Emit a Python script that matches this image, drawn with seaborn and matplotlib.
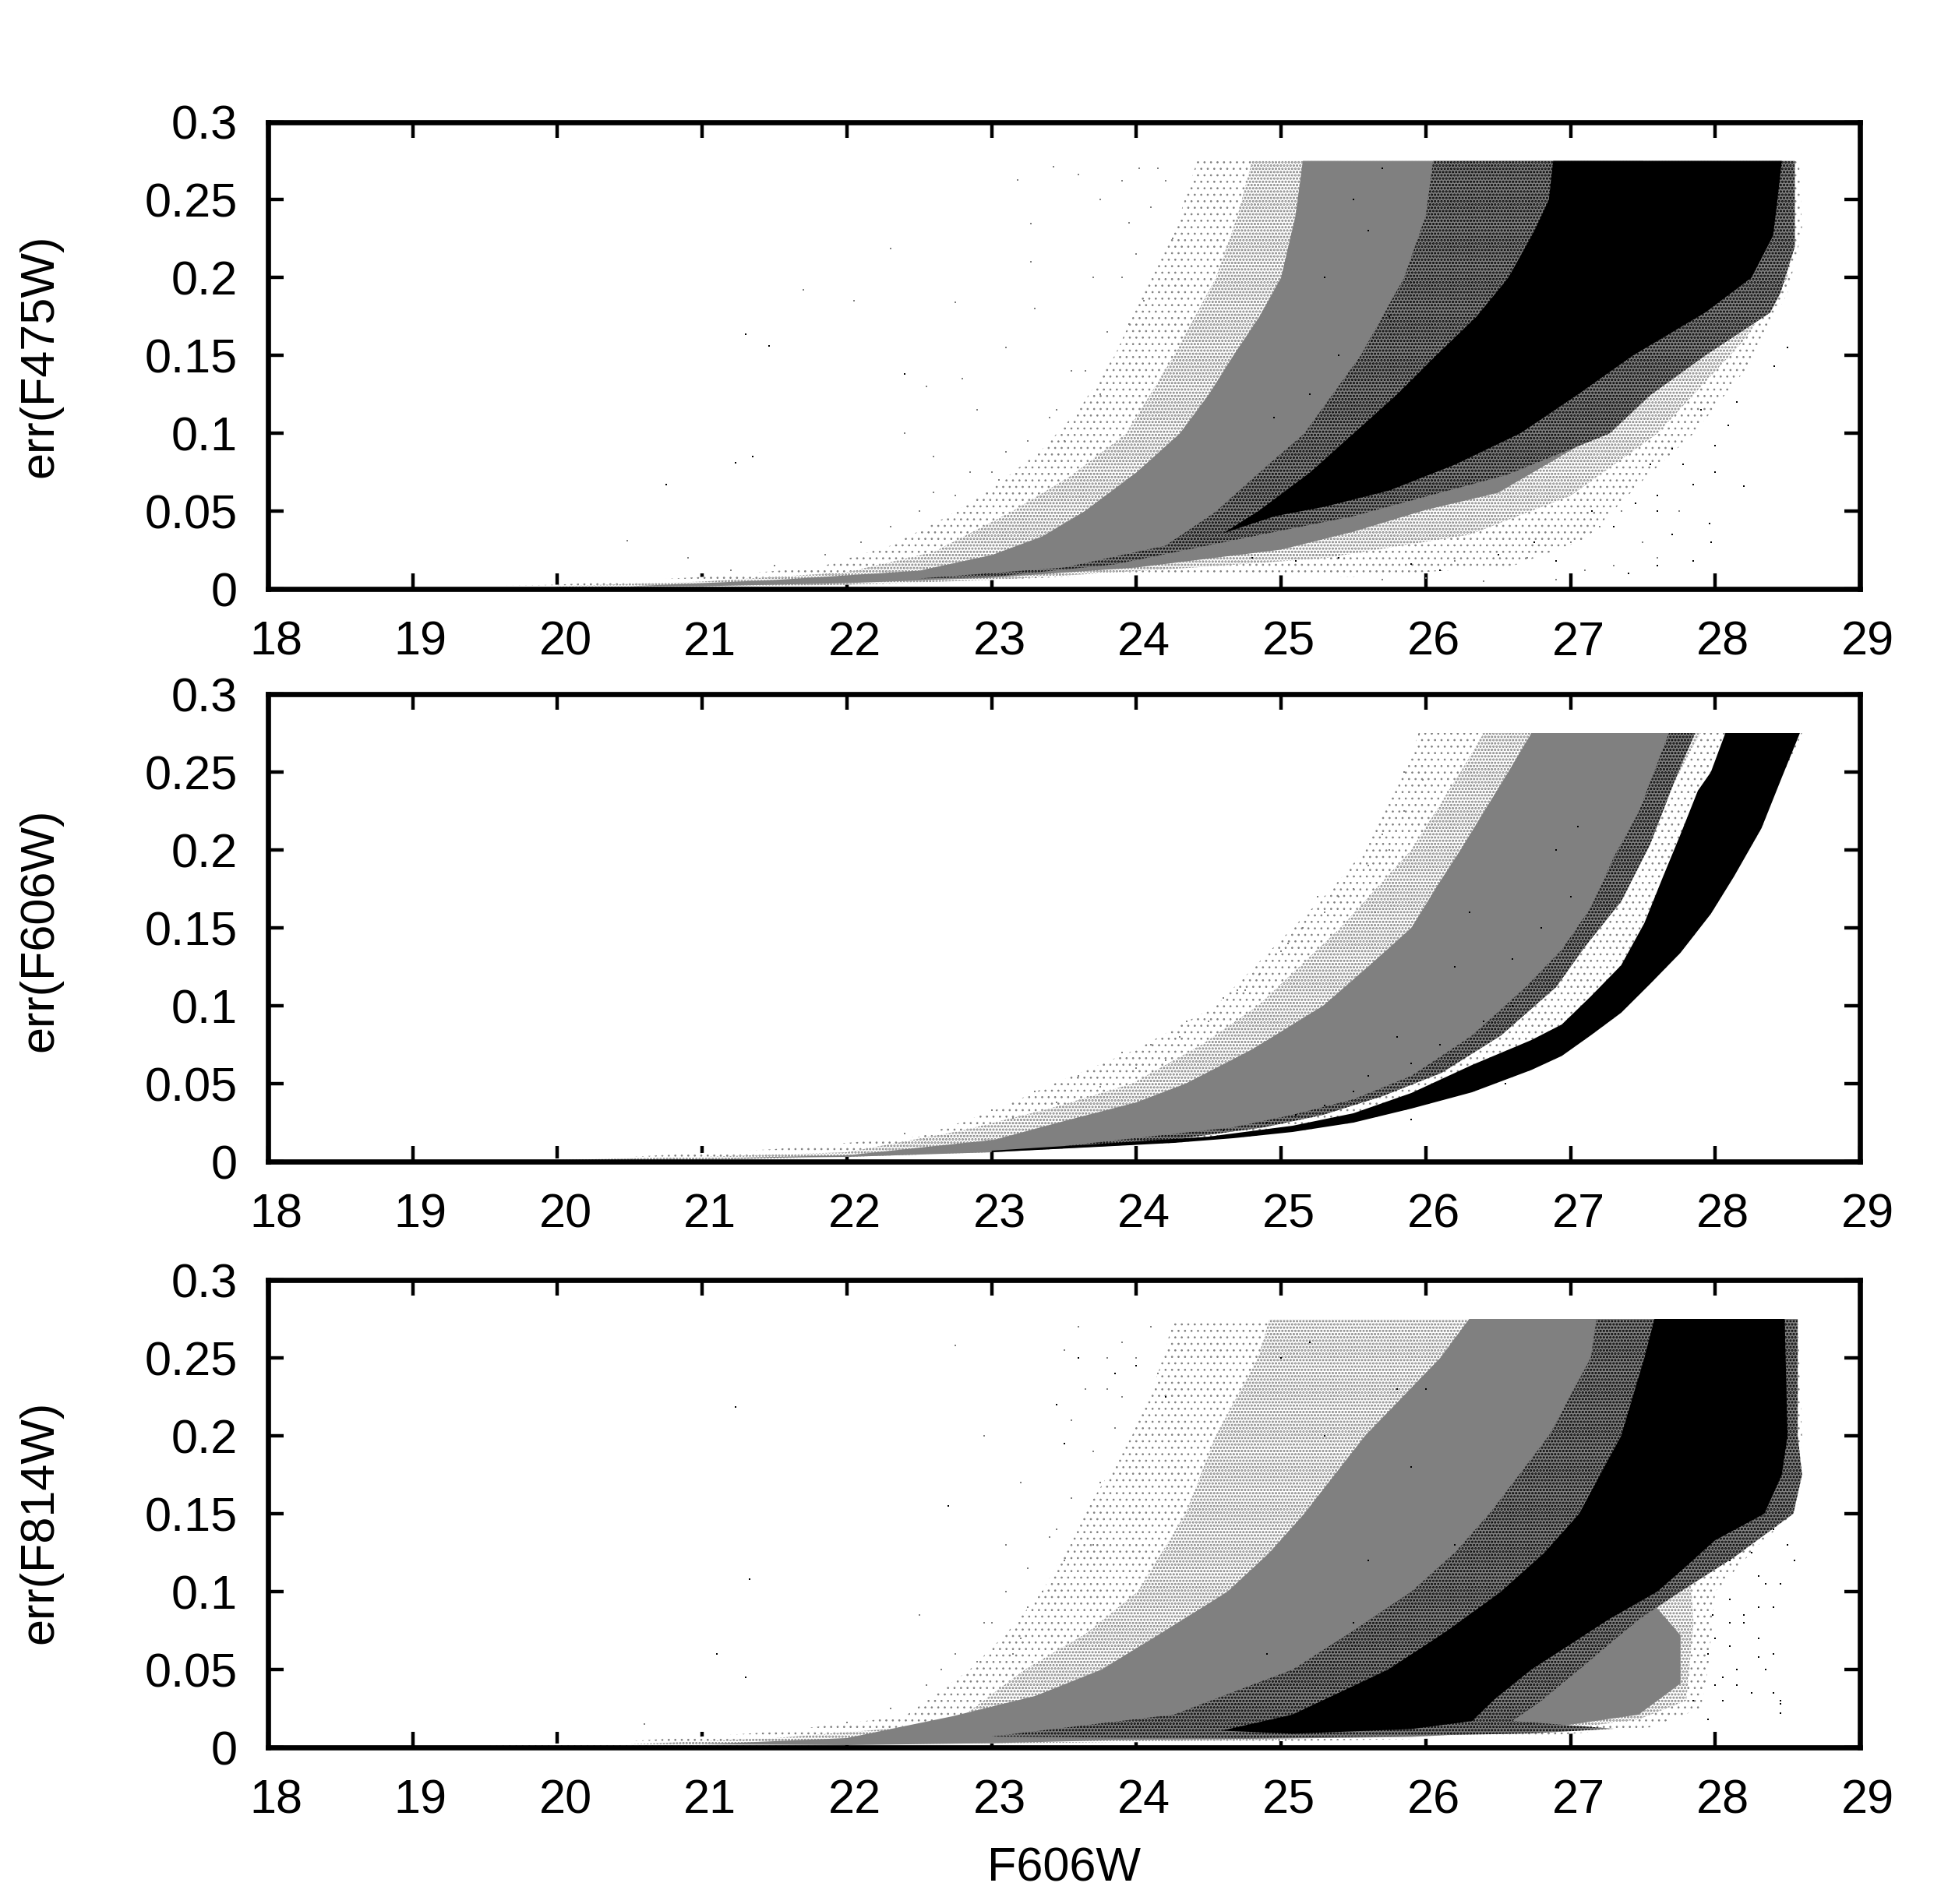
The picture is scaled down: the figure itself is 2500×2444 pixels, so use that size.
import matplotlib
matplotlib.use("Agg")
import matplotlib.pyplot as plt
import matplotlib.transforms as mtrans
import pandas as pd
import seaborn as sns

# =====================================
# Shared axis values
# =====================================

x_ticks = [18, 19, 20, 21, 22, 23, 24, 25, 26, 27, 28, 29]
y_ticks = [0, 0.05, 0.1, 0.15, 0.2, 0.25, 0.3]
y_tick_labels = ["0", "0.05", "0.1", "0.15", "0.2", "0.25", "0.3"]
y_titles = ["err(F475W)", "err(F606W)", "err(F814W)"]

# =====================================
# Envelopes (mag, err)
# sparse = thin dots, speckle = half covered, gray / dark / black = covered
# =====================================

# F475W
p1_sparse_x = [19.0, 20.0, 21.0, 21.8, 22.3, 22.7, 23.05, 23.35, 23.6, 23.85, 24.1, 24.3, 24.42, 28.58, 28.6, 28.5, 28.2, 27.85, 27.5, 27.1, 26.6, 25.5, 24.5, 23.5, 22.5, 21.0, 20.0]
p1_sparse_y = [0.001, 0.003, 0.008, 0.014, 0.028, 0.047, 0.068, 0.09, 0.115, 0.15, 0.2, 0.24, 0.275, 0.275, 0.23, 0.19, 0.14, 0.1, 0.07, 0.032, 0.015, 0.008, 0.01, 0.008, 0.004, 0.0015, 0.0007]
p1_speckle_x = [20.0, 21.0, 22.0, 22.6, 23.14, 23.55, 23.93, 24.26, 24.55, 24.7, 24.8, 28.5, 28.5, 28.2, 27.6, 27.0, 26.3, 25.3, 24.4, 23.0, 22.0, 21.0, 20.0]
p1_speckle_y = [0.002, 0.005, 0.011, 0.024, 0.05, 0.073, 0.1, 0.15, 0.2, 0.24, 0.275, 0.275, 0.2, 0.16, 0.1, 0.06, 0.035, 0.02, 0.014, 0.006, 0.003, 0.0015, 0.0008]
p1_gray_x = [20.5, 21.5, 22.5, 23.0, 23.35, 23.64, 24.0, 24.3, 24.5, 24.67, 24.85, 25.0, 25.1, 25.15, 27.5, 28.0, 27.2, 26.5, 26.0, 25.5, 25.0, 24.0, 23.0, 22.0, 21.0]
p1_gray_y = [0.002, 0.006, 0.012, 0.022, 0.034, 0.05, 0.075, 0.1, 0.125, 0.15, 0.175, 0.2, 0.24, 0.275, 0.275, 0.2, 0.1, 0.062, 0.051, 0.037, 0.0255, 0.014, 0.0075, 0.004, 0.002]
p1_dark_x = [22.5, 23.5, 24.2, 24.55, 24.85, 25.16, 25.55, 25.85, 26.0, 26.05, 28.55, 28.55, 28.45, 28.38, 27.93, 27.55, 27.27, 26.56, 25.5, 24.75, 23.85, 23.0]
p1_dark_y = [0.007, 0.014, 0.028, 0.05, 0.075, 0.1, 0.15, 0.2, 0.24, 0.275, 0.275, 0.22, 0.19, 0.1776, 0.15, 0.1245, 0.1, 0.0735, 0.047, 0.033, 0.016, 0.008]
p1_black_x = [24.6, 24.84, 25.2, 25.5, 25.8, 26.07, 26.35, 26.57, 26.75, 26.85, 26.88, 28.46, 28.43, 28.4, 28.25, 27.93, 27.43, 27.05, 26.65, 26.2, 25.75, 25.3, 24.96]
p1_black_y = [0.036, 0.05, 0.075, 0.1, 0.125, 0.15, 0.175, 0.2, 0.23, 0.25, 0.275, 0.275, 0.25, 0.227, 0.2, 0.1776, 0.15, 0.125, 0.1, 0.08, 0.0635, 0.053, 0.047]

# F606W
p2_sparse_x = [19.5, 20.5, 21.5, 22.5, 23.0, 23.43, 24.0, 24.55, 25.08, 25.35, 25.58, 25.8, 25.9, 25.95, 28.6, 28.46, 28.32, 28.13, 27.97, 27.76, 27.55, 27.35, 27.14, 26.94, 26.73, 26.32, 25.9, 25.5, 25.08, 24.67, 24.26, 23.85, 23.0, 22.0, 21.0, 20.0]
p2_sparse_y = [0.001, 0.003, 0.008, 0.016, 0.032, 0.05, 0.072, 0.1, 0.15, 0.175, 0.2, 0.24, 0.26, 0.275, 0.275, 0.2465, 0.214, 0.183, 0.159, 0.134, 0.114, 0.0955, 0.081, 0.0678, 0.0588, 0.0445, 0.034, 0.025, 0.019, 0.015, 0.012, 0.01, 0.006, 0.003, 0.001, 0.0005]
p2_speckle_x = [20.0, 21.0, 22.0, 22.8, 23.4, 23.97, 24.45, 24.84, 25.41, 25.9, 26.24, 26.4, 27.9, 27.72, 27.55, 27.35, 27.1, 26.9, 26.52, 26.11, 25.7, 25.29, 24.88, 24.0, 23.0, 22.0, 21.0]
p2_speckle_y = [0.001, 0.003, 0.006, 0.02, 0.034, 0.05, 0.075, 0.1, 0.15, 0.2, 0.25, 0.275, 0.275, 0.2445, 0.2037, 0.167, 0.138, 0.112, 0.081, 0.057, 0.042, 0.03, 0.022, 0.011, 0.006, 0.003, 0.001]
p2_gray_x = [21.0, 22.0, 23.02, 23.5, 24.0, 24.34, 24.8, 25.29, 25.6, 25.9, 26.1, 26.24, 26.57, 26.73, 27.86, 27.72, 27.55, 27.35, 27.1, 26.9, 26.52, 26.11, 25.7, 25.29, 24.88, 24.0, 23.0, 22.0]
p2_gray_y = [0.002, 0.004, 0.014, 0.026, 0.038, 0.05, 0.072, 0.1, 0.125, 0.15, 0.18, 0.2, 0.25, 0.275, 0.275, 0.2445, 0.2037, 0.167, 0.138, 0.112, 0.081, 0.057, 0.042, 0.03, 0.022, 0.011, 0.006, 0.003]
p2_dark_x = [23.5, 24.67, 25.08, 25.5, 25.9, 26.32, 26.69, 26.94, 27.14, 27.31, 27.47, 27.68, 27.86, 27.72, 27.55, 27.35, 27.1, 26.9, 26.52, 26.11, 25.7, 25.29, 24.88, 24.0]
p2_dark_y = [0.01, 0.022, 0.03, 0.04, 0.055, 0.081, 0.112, 0.136, 0.163, 0.1975, 0.224, 0.275, 0.275, 0.2445, 0.2037, 0.167, 0.138, 0.112, 0.081, 0.057, 0.042, 0.03, 0.022, 0.011]
p2_black_x = [23.0, 23.85, 24.5, 25.08, 25.5, 25.9, 26.32, 26.73, 26.94, 27.14, 27.35, 27.51, 27.64, 27.76, 27.88, 27.97, 28.07, 28.585, 28.46, 28.32, 28.13, 27.97, 27.76, 27.55, 27.35, 27.14, 26.94, 26.73, 26.32, 25.9, 25.5, 25.08, 24.67, 24.26, 23.85, 23.0]
p2_black_y = [0.007, 0.012, 0.016, 0.023, 0.031, 0.044, 0.062, 0.078, 0.088, 0.106, 0.126, 0.153, 0.183, 0.21, 0.238, 0.25, 0.275, 0.275, 0.2465, 0.214, 0.183, 0.159, 0.134, 0.114, 0.0955, 0.081, 0.0678, 0.0588, 0.0445, 0.034, 0.025, 0.019, 0.015, 0.012, 0.01, 0.006]

# F814W
p3_sparse_x = [19.5, 20.5, 21.5, 22.4, 22.85, 23.1, 23.35, 23.64, 23.97, 24.15, 24.26, 28.57, 28.6, 28.54, 28.3, 28.0, 27.95, 27.9, 27.55, 26.73, 25.0, 23.5, 22.0, 20.5]
p3_sparse_y = [0.001, 0.004, 0.01, 0.02, 0.05, 0.073, 0.1, 0.15, 0.2, 0.24, 0.275, 0.275, 0.2, 0.15, 0.13, 0.1, 0.05, 0.025, 0.0129, 0.0067, 0.004, 0.003, 0.0015, 0.0005]
p3_speckle_x = [20.5, 21.5, 22.3, 22.8, 23.23, 23.65, 24.01, 24.34, 24.55, 24.84, 24.92, 27.6, 27.8, 27.85, 27.8, 27.47, 26.73, 25.0, 23.5, 22.0]
p3_speckle_y = [0.002, 0.006, 0.012, 0.02, 0.05, 0.073, 0.1, 0.15, 0.2, 0.25, 0.275, 0.275, 0.15, 0.08, 0.03, 0.018, 0.009, 0.005, 0.003, 0.002]
p3_gray_x = [21.0, 22.0, 22.73, 23.3, 23.76, 24.2, 24.63, 24.92, 25.16, 25.58, 26.1, 26.3, 27.3, 27.55, 27.76, 27.76, 27.47, 26.73, 25.9, 25.0, 23.85, 23.0, 22.0]
p3_gray_y = [0.002, 0.006, 0.02, 0.033, 0.05, 0.075, 0.1, 0.125, 0.15, 0.2, 0.25, 0.275, 0.275, 0.0945, 0.072, 0.041, 0.021, 0.011, 0.0067, 0.0057, 0.0047, 0.0027, 0.0015]
p3_dark_x = [23.0, 24.26, 25.08, 25.5, 25.9, 26.2, 26.44, 26.85, 27.14, 27.18, 28.57, 28.57, 28.6, 28.54, 28.13, 27.76, 27.47, 27.06, 26.8, 26.6, 27.3, 26.73, 25.9, 24.66]
p3_dark_y = [0.007, 0.0211, 0.05, 0.075, 0.1, 0.125, 0.15, 0.2, 0.25, 0.275, 0.275, 0.2, 0.175, 0.15, 0.122, 0.1, 0.082, 0.05, 0.03, 0.017, 0.012, 0.009, 0.0075, 0.0057]
p3_black_x = [24.59, 25.08, 25.74, 26.15, 26.52, 26.82, 27.06, 27.35, 27.51, 27.58, 28.48, 28.5, 28.46, 28.34, 28.0, 27.76, 27.6, 27.27, 26.73, 26.48, 26.32, 25.9, 25.08]
p3_black_y = [0.0108, 0.0211, 0.05, 0.075, 0.1, 0.125, 0.15, 0.2, 0.25, 0.275, 0.275, 0.2, 0.175, 0.15, 0.133, 0.113, 0.1, 0.0825, 0.05, 0.0313, 0.0169, 0.0118, 0.0088]

# =====================================
# Single dots
# =====================================

p1_gray_dots_x = [20.48, 20.9, 21.7, 22.05, 22.3, 22.55, 22.75, 22.8, 23.1, 23.18, 23.27, 23.27, 23.43, 23.6, 23.75, 23.9, 23.95, 24.02, 23.3, 23.55, 23.7, 22.4, 22.6, 22.9, 23.05, 23.4, 26.2, 26.7, 27.0, 27.2, 27.35, 27.1, 26.9, 26.4, 23.9, 24.0, 24.1, 24.2, 24.25, 23.95, 23.8, 23.65, 23.45, 23.25, 23.0, 22.75, 22.5, 22.3, 22.1, 21.85, 21.5, 21.2, 24.05, 23.75, 23.5, 23.1, 22.85, 22.6, 24.15, 27.6, 27.3, 27.75, 27.5, 26.0, 25.7]
p1_gray_dots_y = [0.031, 0.02, 0.192, 0.185, 0.2186, 0.13, 0.184, 0.135, 0.155, 0.2625, 0.2346, 0.21, 0.271, 0.266, 0.25, 0.262, 0.235, 0.27, 0.18, 0.14, 0.2, 0.1, 0.085, 0.115, 0.07, 0.11, 0.018, 0.02, 0.03, 0.04, 0.05, 0.012, 0.006, 0.005, 0.2, 0.215, 0.245, 0.262, 0.225, 0.17, 0.165, 0.14, 0.115, 0.095, 0.075, 0.06, 0.05, 0.04, 0.03, 0.022, 0.015, 0.012, 0.185, 0.125, 0.095, 0.088, 0.075, 0.062, 0.27, 0.02, 0.015, 0.05, 0.03, 0.007, 0.006]
p1_black_dots_x = [21.3, 21.46, 22.4, 21.23, 21.35, 20.75, 28.5, 28.41, 28.15, 28.09, 28.0, 27.9, 27.78, 27.85, 27.97, 27.96, 27.7, 27.6, 27.4, 27.85, 28.2, 28.0, 27.6, 25.3, 25.5, 25.6, 25.4, 25.75, 25.2, 24.95, 25.7, 27.3, 27.6, 26.9, 26.5, 25.9, 25.4, 26.1, 25.1, 24.8, 27.15, 27.45, 26.75, 27.7, 27.55]
p1_black_dots_y = [0.1636, 0.156, 0.138, 0.081, 0.085, 0.067, 0.155, 0.143, 0.12, 0.105, 0.092, 0.115, 0.08, 0.067, 0.03, 0.042, 0.035, 0.015, 0.01, 0.018, 0.066, 0.075, 0.05, 0.2, 0.25, 0.23, 0.15, 0.175, 0.125, 0.11, 0.27, 0.04, 0.06, 0.018, 0.022, 0.016, 0.02, 0.012, 0.018, 0.02, 0.05, 0.055, 0.03, 0.09, 0.08]

p2_gray_dots_x = [22.4, 23.0, 23.3, 23.6, 23.9, 24.1, 24.35, 24.6, 24.85, 25.0, 25.15, 25.4, 25.6, 25.7, 25.95, 25.85, 25.3, 25.05, 24.7, 24.3, 24.0, 25.25, 24.75, 24.5, 24.2, 23.75, 23.45, 23.15, 22.7, 25.75, 25.65, 25.85, 25.98, 25.5]
p2_gray_dots_y = [0.018, 0.033, 0.045, 0.055, 0.07, 0.075, 0.09, 0.105, 0.12, 0.135, 0.15, 0.17, 0.19, 0.21, 0.274, 0.25, 0.16, 0.14, 0.11, 0.08, 0.06, 0.17, 0.11, 0.09, 0.065, 0.048, 0.038, 0.028, 0.016, 0.2, 0.16, 0.225, 0.245, 0.175]
p2_black_dots_x = [24.6, 24.9, 25.3, 25.6, 25.9, 26.1, 26.4, 26.6, 26.8, 27.0, 27.05, 26.2, 25.8, 25.5, 26.6, 26.9, 26.3, 25.1, 25.9, 26.55, 26.95, 27.3, 27.6, 27.8]
p2_black_dots_y = [0.02, 0.025, 0.036, 0.055, 0.063, 0.075, 0.09, 0.1, 0.15, 0.17, 0.215, 0.125, 0.08, 0.045, 0.13, 0.2, 0.16, 0.03, 0.027, 0.05, 0.072, 0.105, 0.14, 0.18]

p3_gray_dots_x = [20.6, 22.75, 22.95, 23.2, 23.35, 23.5, 23.6, 23.1, 23.25, 23.75, 23.8, 23.9, 23.45, 23.0, 23.15, 22.65, 22.5, 23.55, 24.1, 24.0, 23.9, 23.85, 23.7, 23.55, 23.4, 23.25, 23.1, 22.95, 22.75, 22.55, 22.3, 22.0, 24.15, 23.8, 23.65, 23.7, 23.5, 23.2, 22.9]
p3_gray_dots_y = [0.015, 0.258, 0.2, 0.17, 0.1, 0.255, 0.27, 0.13, 0.09, 0.17, 0.23, 0.26, 0.14, 0.08, 0.06, 0.05, 0.085, 0.21, 0.27, 0.25, 0.225, 0.205, 0.19, 0.16, 0.135, 0.115, 0.1, 0.08, 0.06, 0.04, 0.025, 0.016, 0.24, 0.25, 0.23, 0.13, 0.12, 0.07, 0.055]
p3_black_dots_x = [21.23, 21.33, 21.1, 21.3, 22.7, 23.45, 23.5, 23.85, 24.0, 23.6, 24.2, 28.45, 28.4, 28.3, 28.2, 28.1, 28.0, 27.95, 28.4, 28.35, 28.15, 28.05, 27.85, 27.95, 28.45, 28.3, 28.45, 28.4, 28.05, 25.0, 25.3, 25.6, 25.2, 25.9, 26.0, 26.2, 25.5, 24.9, 25.8, 28.1, 28.25, 28.4, 28.5, 28.55, 28.35, 28.2, 28.3, 28.1, 27.98, 28.1, 28.3, 28.15, 28.0, 28.25, 28.45]
p3_black_dots_y = [0.2185, 0.108, 0.06, 0.045, 0.155, 0.22, 0.195, 0.24, 0.245, 0.25, 0.225, 0.105, 0.09, 0.11, 0.085, 0.095, 0.07, 0.06, 0.06, 0.05, 0.04, 0.03, 0.03, 0.018, 0.028, 0.058, 0.022, 0.035, 0.045, 0.25, 0.2, 0.12, 0.26, 0.18, 0.23, 0.13, 0.08, 0.06, 0.23, 0.12, 0.125, 0.14, 0.13, 0.12, 0.105, 0.08, 0.09, 0.065, 0.085, 0.08, 0.07, 0.05, 0.04, 0.035, 0.03]

# =====================================
# Style
# =====================================

sns.set_theme(style="ticks")
plt.rcParams['font.family'] = ['Liberation Sans', 'DejaVu Sans']
plt.rcParams['text.color'] = 'black'
plt.rcParams['axes.labelcolor'] = 'black'

# face colour, dot colour, hatch pattern, dot outline
band_styles = {
    "sparse": ("white", "#808080", "..", 0.7),
    "speckle": ("white", "#808080", "....", 1.5),
    "gray": ("#808080", "#808080", None, 0),
    "dark": ("#808080", "black", "....", 1.5),
    "black": ("black", "black", None, 0),
}

panels = [
    (156.5, 0.5, [("sparse", p1_sparse_x, p1_sparse_y), ("speckle", p1_speckle_x, p1_speckle_y),
                  ("gray", p1_gray_x, p1_gray_y), ("dark", p1_dark_x, p1_dark_y), ("black", p1_black_x, p1_black_y)],
     p1_gray_dots_x, p1_gray_dots_y, p1_black_dots_x, p1_black_dots_y),
    (891, 0.495, [("sparse", p2_sparse_x, p2_sparse_y), ("speckle", p2_speckle_x, p2_speckle_y),
                  ("gray", p2_gray_x, p2_gray_y), ("dark", p2_dark_x, p2_dark_y), ("black", p2_black_x, p2_black_y)],
     p2_gray_dots_x, p2_gray_dots_y, p2_black_dots_x, p2_black_dots_y),
    (1643, 0.482, [("sparse", p3_sparse_x, p3_sparse_y), ("speckle", p3_speckle_x, p3_speckle_y),
                   ("gray", p3_gray_x, p3_gray_y), ("dark", p3_dark_x, p3_dark_y), ("black", p3_black_x, p3_black_y)],
     p3_gray_dots_x, p3_gray_dots_y, p3_black_dots_x, p3_black_dots_y),
]

# =====================================
# Figure
# =====================================

W, H = 2500, 2444
fig = plt.figure(figsize=(W / 100, H / 100), dpi=100, facecolor="white")

for i, (top, label_y, bands, gx, gy, bx, by) in enumerate(panels):
    ax = fig.add_axes([344 / W, 1 - (top + 600) / H, 2043 / W, 600 / H])

    for name, xs, ys in bands:
        face, dots, pattern, dot_lw = band_styles[name]
        with plt.rc_context({"hatch.linewidth": dot_lw}):
            ax.fill(xs, ys, facecolor=face, edgecolor=dots, hatch=pattern, linewidth=0)

    sns.scatterplot(data=pd.DataFrame({"x": gx, "y": gy}), x="x", y="y", ax=ax,
                    color="#808080", marker="s", s=3.5, linewidth=0)
    sns.scatterplot(data=pd.DataFrame({"x": bx, "y": by}), x="x", y="y", ax=ax,
                    color="black", marker="s", s=3.5, linewidth=0)

    ax.set_xlim(18, 29)
    ax.set_ylim(0, 0.3)
    ax.set_xticks(x_ticks)
    ax.set_yticks(y_ticks)
    ax.set_yticklabels(y_tick_labels)
    ax.tick_params(axis="both", which="major", direction="in", length=14.4, width=3.2,
                   top=True, right=True, labelsize=44, colors="black")
    ax.tick_params(axis="x", pad=29)
    ax.tick_params(axis="y", pad=28)

    for spine in ax.spines.values():
        spine.set_visible(True)
        spine.set_linewidth(4.8)
        spine.set_color("black")

    # gnuplot puts the tick labels slightly off the ticks
    shift_x = mtrans.ScaledTranslation(10 / 100, 0, fig.dpi_scale_trans)
    for lab in ax.get_xticklabels():
        lab.set_transform(lab.get_transform() + shift_x)

    ax.set_ylabel(y_titles[i], fontsize=44, va="center")
    ax.yaxis.set_label_coords(-0.143, label_y)

    if i == 2:
        ax.set_xlabel("F606W", fontsize=44, va="center")
        ax.xaxis.set_label_coords(0.5, -0.26)
    else:
        ax.set_xlabel("")

plt.savefig("out.png", dpi=100)
